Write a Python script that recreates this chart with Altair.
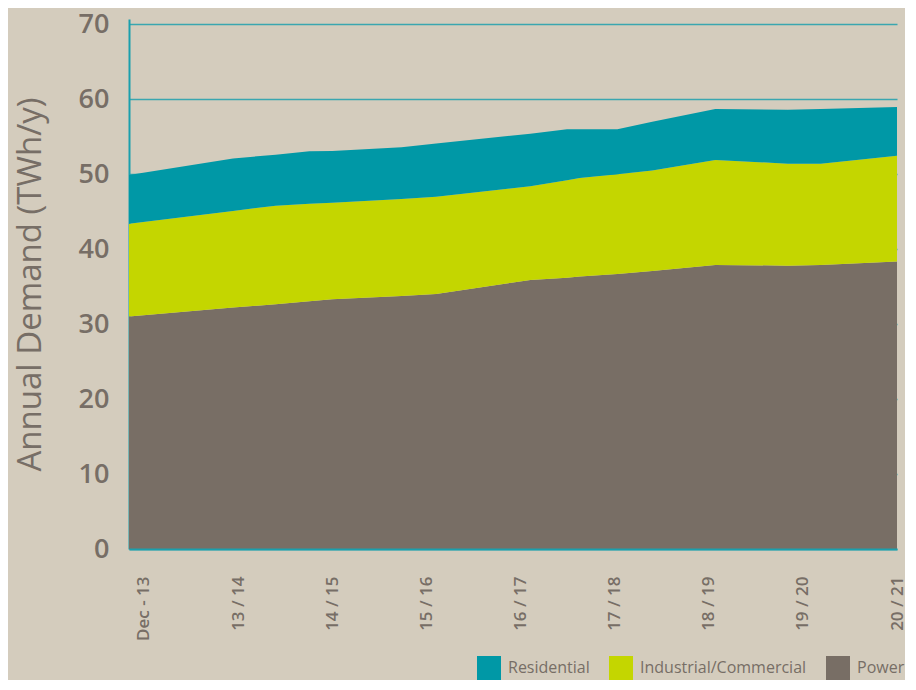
import altair as alt
import pandas as pd

# x positions in years relative to the "Dec - 13" tick (0 = Dec-13, 1 = 13/14, ...)
t_pos = [-0.158, 0.947, 1.4, 1.758, 2.0, 2.737, 3.105, 4.105, 4.495, 4.63,
         5.03, 5.4, 6.07, 6.84, 7.19, 8.116]
power = [31.0, 32.2, 32.65, 33.05, 33.3, 33.75, 34.0, 35.9, 36.2, 36.35,
         36.7, 37.1, 37.9, 37.8, 37.9, 38.4]
industrial = [12.4, 12.9, 13.15, 13.0, 12.9, 12.95, 13.0, 12.5, 13.0, 13.15,
              13.3, 13.4, 14.0, 13.6, 13.5, 14.2]
residential = [6.5, 7.0, 6.8, 7.0, 6.9, 6.9, 7.1, 7.0, 6.8, 6.5,
               6.0, 6.5, 6.8, 7.2, 7.3, 6.4]
tick_labels = ["Dec - 13", "13 / 14", "14 / 15", "15 / 16", "16 / 17",
               "17 / 18", "18 / 19", "19 / 20", "20 / 21"]
series = ["Residential", "Industrial/Commercial", "Power"]
colors = ["#0098a6", "#c4d600", "#786e65"]

rows = []
for i, t in enumerate(t_pos):
    rows.append({"t": t, "series": "Power", "rank": 0, "value": power[i]})
    rows.append({"t": t, "series": "Industrial/Commercial", "rank": 1, "value": industrial[i]})
    rows.append({"t": t, "series": "Residential", "rank": 2, "value": residential[i]})
df = pd.DataFrame(rows)

label_expr = "[" + ",".join("'%s'" % s for s in tick_labels) + "][datum.value]"
text_col = "#776e66"
teal_line = "#1a9fad"

chart = alt.Chart(df).mark_area(clip=True).encode(
    x=alt.X("t:Q",
            scale=alt.Scale(domain=[-0.158, 8.0], nice=False, zero=False),
            axis=alt.Axis(values=list(range(9)), labelExpr=label_expr, title=None,
                          grid=False, ticks=False, labelAngle=270, labelPadding=27,
                          labelFont="Open Sans", labelFontSize=17, labelFontWeight=600,
                          labelColor=text_col, labelOverlap=False, labelFlush=False,
                          domainColor=teal_line, domainWidth=2, zindex=1)),
    y=alt.Y("value:Q", stack="zero",
            scale=alt.Scale(domain=[0, 70.7], nice=False),
            axis=alt.Axis(values=list(range(0, 71, 10)), title="Annual Demand (TWh/y)",
                          titleFont="Open Sans", titleFontSize=33, titleFontWeight="normal",
                          titleColor=text_col, titlePadding=31,
                          labelFont="Open Sans", labelFontSize=27, labelFontWeight=600,
                          labelColor=text_col, labelPadding=20, ticks=False,
                          grid=True, gridColor="#3aa6b0", gridWidth=1.5,
                          domainColor=teal_line, domainWidth=2)),
    color=alt.Color("series:N",
                    scale=alt.Scale(domain=series, range=colors),
                    legend=alt.Legend(title=None, orient="none", direction="horizontal",
                                      legendX=348, legendY=637, symbolType="square",
                                      symbolSize=576, symbolStrokeWidth=0, symbolOpacity=1,
                                      labelFont="Open Sans", labelFontSize=16,
                                      labelColor=text_col, labelOffset=7, labelLimit=400,
                                      columnPadding=19)),
    order=alt.Order("rank:Q", sort="ascending"),
).properties(
    width=768, height=530,
    background="#d4ccbd",
    padding={"left": 6, "top": 2, "right": 0, "bottom": 0},
).configure_view(stroke=None)

chart.save("out.html", embed_options={"renderer": "svg", "actions": False})
